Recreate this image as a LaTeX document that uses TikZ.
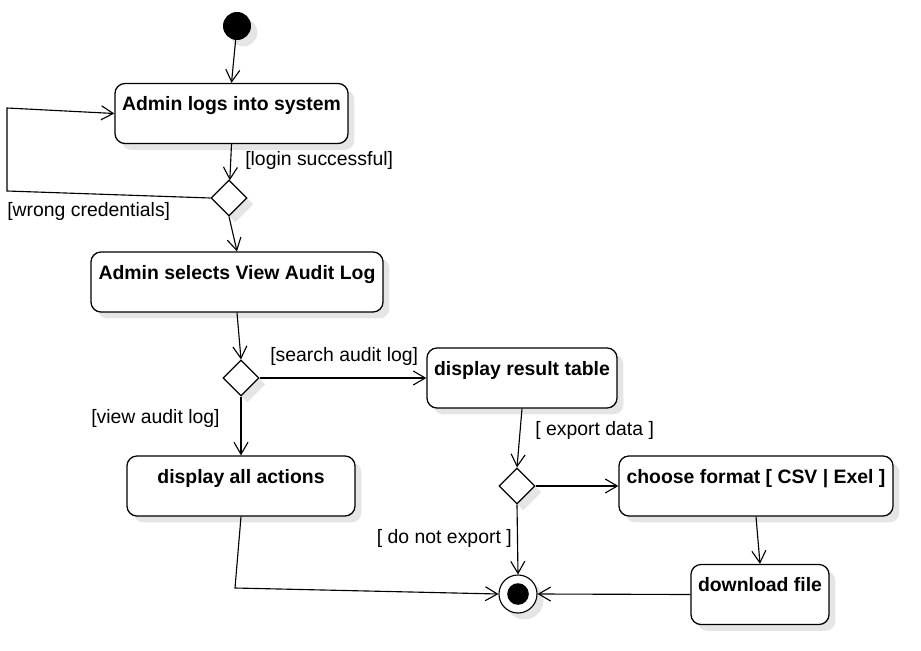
\documentclass[tikz,border=0pt]{standalone}
\usepackage{fontspec}
\setmainfont{Liberation Sans}
\usetikzlibrary{shapes.geometric,arrows.meta}

\tikzset{
	soft shadow/.style={preaction={fill=black!10, transform canvas={xshift=0.16cm, yshift=-0.16cm}}},
	act/.style={draw, rounded corners=0.25cm, fill=white, line width=0.9pt, inner ysep=0pt,
		text height=0.68cm, text depth=0.82cm, font=\fontsize{13.8}{16}\selectfont\bfseries, soft shadow},
	decision/.style={diamond, draw, fill=white, line width=0.8pt, minimum size=0.9cm, inner sep=0pt, soft shadow},
	guard/.style={font=\fontsize{13.8}{16}\selectfont, inner sep=0pt},
	flow/.style={line width=0.8pt, -{Straight Barb[length=0.3cm,width=0.35cm]}},
}

\begin{document}
\begin{tikzpicture}[x=0.025cm, y=-0.025cm]
		\useasboundingbox (0,0) rectangle (921,651);
		% start and end
		\node[circle, fill=black, minimum size=0.7cm, inner sep=0pt, soft shadow] (start) at (237,26) {};
		\node[circle, draw, fill=white, line width=0.8pt, minimum size=0.95cm, inner sep=0pt, soft shadow] (final) at (518,594) {};
		\fill (final.center) circle (0.27cm);
		% actions
		\node[act, minimum width=5.825cm] (login) at (231.5,113.5) {Admin logs into system};
		\node[act, minimum width=7.3cm] (select) at (237,282) {Admin selects View Audit Log};
		\node[act, minimum width=4.75cm] (result) at (522,378) {display result table};
		\node[act, minimum width=5.7cm] (all) at (241,486) {display all actions};
		\node[act, minimum width=6.85cm] (format) at (756,486) {choose format [ CSV | Exel ]};
		\node[act, minimum width=3.45cm] (download) at (760,594.5) {download file};
		% decisions
		\node[decision] (d1) at (229,198) {};
		\node[decision] (d2) at (241,378) {};
		\node[decision] (d3) at (517,486) {};
		\coordinate (loopa) at (7,191);
		\coordinate (loopb) at (7,108);
		\coordinate (corner) at (235,588);
		% flows
		\draw[flow] (start) -- (login.north);
		\draw[flow] (login.south) -- (d1);
		\draw[flow] (d1.west) -- (loopa) -- (loopb) -- (login.west);
		\draw[flow] (d1.south) -- (select.north);
		\draw[flow] (select.south) -- (d2.north);
		\draw[flow] (d2.east) -- (result);
		\draw[flow] (d2.south) -- (all.north);
		\draw[flow] (result.south) -- (d3.north);
		\draw[flow] (d3.east) -- (format);
		\draw[flow] (d3.south) -- (final.north);
		\draw[flow] (format.south) -- (download.north);
		\draw[flow] (download.west) -- (final.east);
		\draw[flow] (all.south) -- (corner) -- (final.west);
		% guards
		\node[guard, anchor=west] (g1) at (245,160) {[login successful]};
		\node[guard, anchor=west] (g2) at (7,211) {[wrong credentials]};
		\node[guard, anchor=west] (g3) at (270,356) {[search audit log]};
		\node[guard, anchor=west] (g4) at (91,418) {[view audit log]};
		\node[guard, anchor=west] (g5) at (535,430) {[ export data ]};
		\node[guard, anchor=east] (g6) at (512,538) {[ do not export ]};
\end{tikzpicture}
\end{document}
